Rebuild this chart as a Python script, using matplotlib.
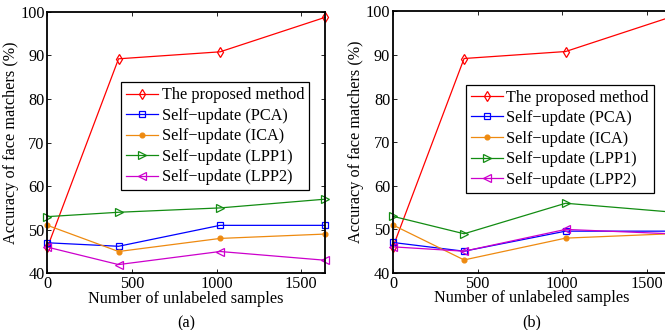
import numpy as np
import matplotlib
matplotlib.use("Agg")
import matplotlib.pyplot as plt

plt.rcParams['font.family'] = ['Liberation Serif', 'DejaVu Serif']
plt.rcParams['font.size'] = 11.7

# samples used for updating
samples = [0, 420, 1020, 1640]

labels = ['The proposed method', 'Self\u2212update (PCA)', 'Self\u2212update (ICA)',
          'Self\u2212update (LPP1)', 'Self\u2212update (LPP2)']

# panel (a)
a_proposed = [46, 89.2, 90.8, 98.7]
a_pca = [47, 46.2, 51, 51]
a_ica = [51, 45, 48, 49]
a_lpp1 = [53, 54, 55, 57]
a_lpp2 = [46, 42, 45, 43]

# panel (b)
b_proposed = [46, 89.2, 90.8, 98.7]
b_pca = [47, 45, 49.6, 49.6]
b_ica = [51, 43, 48, 49]
b_lpp1 = [53, 49, 56, 54]
b_lpp2 = [46, 45, 50, 49]

colors = ['#ff0000', '#0000ff', '#ee8a10', '#128c12', '#cc00cc']
markers = ['d', 's', 'o', '>', '<']
msizes = [5, 5, 3.5, 5.5, 5.5]
fills = ['none', 'none', None, 'none', 'none']

fs = 11.7
fig = plt.figure(figsize=(6.65, 3.3), dpi=100)
ax_a = fig.add_axes([0.0714, 0.1718, 0.4173, 0.7927])
ax_b = fig.add_axes([0.591, 0.1727, 0.4173, 0.7927])


def draw(ax, series, tag, anchor):
    for s, lab, c, m, ms, f in zip(series, labels, colors, markers, msizes, fills):
        kw = dict(color=c, marker=m, markersize=ms, linewidth=0.9,
                  markeredgewidth=0.9, label=lab, clip_on=False)
        if f == 'none':
            kw['markerfacecolor'] = 'none'
        ax.plot(samples, s, **kw)
    ax.set_xlim(0, 1640)
    ax.set_ylim(40, 100)
    ax.set_xticks([0, 500, 1000, 1500])
    ax.set_yticks(np.arange(40, 101, 10))
    ax.tick_params(direction='in', top=True, right=True, length=3,
                   width=0.6, labelsize=fs, pad=2)
    for sp in ax.spines.values():
        sp.set_linewidth(1.3)
    ax.set_xlabel('Number of unlabeled samples', fontsize=fs, labelpad=-1)
    ax.set_ylabel('Accuracy of face matchers (%)', fontsize=fs, labelpad=1)
    ax.text(0.5, -0.16, tag, transform=ax.transAxes, ha='center', va='top',
            fontsize=fs)
    leg = ax.legend(loc='upper left', bbox_to_anchor=anchor, fontsize=fs,
                    handlelength=2.0, handletextpad=0.2, labelspacing=0.28,
                    borderpad=0.3, borderaxespad=0, fancybox=False,
                    framealpha=1)
    leg.get_frame().set_edgecolor('black')
    leg.get_frame().set_linewidth(0.9)


draw(ax_a, [a_proposed, a_pca, a_ica, a_lpp1, a_lpp2], '(a)', (0.265, 0.73))
draw(ax_b, [b_proposed, b_pca, b_ica, b_lpp1, b_lpp2], '(b)', (0.262, 0.72))

fig.savefig('out.png', dpi=100)
